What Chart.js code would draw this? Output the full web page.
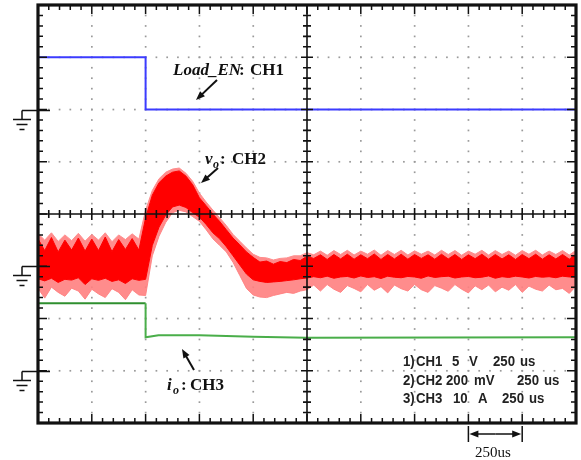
<!DOCTYPE html>
<html>
<head>
<meta charset="utf-8">
<script src="https://cdn.jsdelivr.net/npm/chart.js@4.4.1/dist/chart.umd.min.js"></script>
<style>
  html, body { margin: 0; background: #fff; }
  #wrap { width: 581px; height: 460px; }
</style>
</head>
<body>
<div id="wrap"><canvas id="scope" width="581" height="460"></canvas></div>
<script>
// time base: 250 us/div, 10 divisions
const divTimes = [0, 250, 500, 750, 1000, 1250, 1500, 1750, 2000, 2250, 2500];
const divLevels = [0, 1, 2, 3, 4, 5, 6, 7, 8];

// CH1 Load_EN (V)
const ch1Times = [0, 500, 500, 2500];
const ch1Volts = [5, 5, 0, 0];

// CH3 io (A)
const ch3Times = [0, 500, 500, 560, 750, 1000, 1250, 2500];
const ch3Amps = [12.9, 12.9, 6.4, 6.8, 6.8, 6.5, 6.3, 6.4];

// CH2 vo (mV, AC) sampled every 31.25 us: outer envelope and dense core
const ch2Times = [0, 31.25, 62.5, 93.75, 125, 156.25, 187.5, 218.75, 250, 281.25, 312.5, 343.75, 375, 406.25, 437.5, 468.75,
  500, 531.25, 562.5, 593.75, 625, 656.25, 687.5, 718.75, 750, 781.25, 812.5, 843.75, 875, 906.25, 937.5, 968.75,
  1000, 1031.25, 1062.5, 1093.75, 1125, 1156.25, 1187.5, 1218.75, 1250, 1281.25, 1312.5, 1343.75, 1375, 1406.25,
  1437.5, 1468.75, 1500, 1531.25, 1562.5, 1593.75, 1625, 1656.25, 1687.5, 1718.75, 1750, 1781.25, 1812.5, 1843.75,
  1875, 1906.25, 1937.5, 1968.75, 2000, 2031.25, 2062.5, 2093.75, 2125, 2156.25, 2187.5, 2218.75, 2250, 2281.25,
  2312.5, 2343.75, 2375, 2406.25, 2437.5, 2468.75, 2500];
const ch2PeakHi = [125, 100, 128, 95, 120, 98, 126, 96, 122, 100, 128, 94, 120, 102, 124, 104,
  215, 290, 335, 360, 372, 376, 356, 325, 280, 246, 215, 186, 156, 122, 96, 70, 46, 34, 32, 24, 30, 32, 40, 40, 52,
  44, 58, 42, 60, 45, 61, 43, 58, 46, 62, 42, 60, 45, 61, 43, 59, 46, 58, 43, 61,
  45, 60, 42, 58, 46, 61, 43, 60, 45, 58, 42, 60, 46, 61, 43, 58, 45, 60, 43, 61];
const ch2CoreHi = [105, 60, 110, 55, 100, 62, 108, 58, 104, 60, 112, 56, 102, 64, 106, 62,
  185, 272, 320, 345, 360, 365, 345, 312, 262, 232, 200, 172, 140, 108, 82, 55, 34, 16, 20, 8, 18, 14, 26, 22, 38,
  30, 44, 26, 45, 28, 46, 27, 44, 29, 47, 26, 45, 28, 46, 27, 45, 30, 44, 27, 46,
  28, 45, 26, 44, 29, 46, 27, 45, 28, 44, 26, 45, 29, 46, 27, 44, 28, 45, 27, 46];
const ch2CoreLo = [-48, -56, -46, -62, -50, -53, -44, -70, -48, -54, -46, -58, -52, -66, -48, -54,
  -50, 80, 150, 196, 227, 234, 225, 205, 188, 160, 128, 105, 75, 40, 5, -30, -52, -58, -62, -60, -58, -55, -52, -48, -45,
  -40, -44, -38, -46, -41, -39, -45, -37, -43, -40, -47, -38, -42, -44, -39, -41, -46, -37, -43, -40,
  -38, -45, -41, -39, -44, -42, -37, -46, -40, -43, -38, -41, -45, -39, -42, -40, -44, -38, -41, -43];
const ch2PeakLo = [-85, -122, -80, -100, -115, -84, -95, -126, -88, -106, -120, -86, -100, -128, -90, -110,
  -112, 40, 115, 168, 205, 214, 208, 190, 172, 140, 105, 80, 55, 15, -35, -85, -110, -118, -120, -112, -106, -100, -104, -95, -90,
  -72, -95, -70, -88, -100, -74, -85, -98, -70, -92, -78, -102, -72, -86, -95, -70, -90, -100, -74, -84,
  -96, -70, -88, -102, -75, -90, -72, -98, -80, -92, -70, -100, -76, -88, -95, -72, -90, -85, -104, -76];

// volts/div and ground level (in divisions from the bottom) per channel
const ch1Div = v => 6 + v / 5;
const ch2Div = mv => 3 + mv / 200;
const ch3Div = a => 1 + a / 10;
const groundLevels = [6, 3, 1];

function trace(times, vals, toDiv) {
  return times.map((t, i) => ({ x: t, y: toDiv(vals[i]) }));
}

function arrow(ctx, x0, y0, x1, y1) {
  const a = Math.atan2(y1 - y0, x1 - x0);
  ctx.beginPath();
  ctx.moveTo(x0, y0);
  ctx.lineTo(x1 - 6 * Math.cos(a), y1 - 6 * Math.sin(a));
  ctx.stroke();
  ctx.beginPath();
  ctx.moveTo(x1, y1);
  ctx.lineTo(x1 - 9 * Math.cos(a) + 3.5 * Math.sin(a), y1 - 9 * Math.sin(a) - 3.5 * Math.cos(a));
  ctx.lineTo(x1 - 9 * Math.cos(a) - 3.5 * Math.sin(a), y1 - 9 * Math.sin(a) + 3.5 * Math.cos(a));
  ctx.closePath();
  ctx.fill();
}

const serif = '"Liberation Serif", "Times New Roman", serif';

const scopeFrame = {
  id: 'scopeFrame',
  beforeDatasetsDraw(chart) {
    const { ctx, scales: { x, y } } = chart;
    ctx.save();
    ctx.fillStyle = '#9a9a9a';
    // dotted graticule
    divTimes.forEach((t, k) => {
      if (k === 0 || k === 5 || k === 10) return;
      const px = x.getPixelForValue(t);
      for (let m = 1; m < 40; m++) {
        ctx.fillRect(px - 0.8, y.getPixelForValue(m / 5) - 0.8, 1.7, 1.7);
      }
    });
    divLevels.forEach((lv, k) => {
      if (k === 0 || k === 4 || k === 8) return;
      const py = y.getPixelForValue(lv);
      for (let m = 1; m < 50; m++) {
        ctx.fillRect(x.getPixelForValue(m * 50) - 0.8, py - 0.8, 1.7, 1.7);
      }
    });
    ctx.restore();
  },
  afterDatasetsDraw(chart) {
    const { ctx, chartArea: a, scales: { x, y } } = chart;
    ctx.save();
    ctx.strokeStyle = '#111';
    ctx.fillStyle = '#111';

    // centre crosshair with minor ticks
    const cx = x.getPixelForValue(1250), cy = y.getPixelForValue(4);
    ctx.lineWidth = 1.6;
    ctx.beginPath();
    ctx.moveTo(cx, a.top); ctx.lineTo(cx, a.bottom);
    ctx.moveTo(a.left, cy); ctx.lineTo(a.right, cy);
    for (let m = 1; m < 40; m++) {
      const py = y.getPixelForValue(m / 5), h = m % 5 ? 4 : 6;
      ctx.moveTo(cx - h, py); ctx.lineTo(cx + h, py);
    }
    for (let m = 1; m < 50; m++) {
      const px = x.getPixelForValue(m * 50), h = m % 5 ? 4 : 6;
      ctx.moveTo(px, cy - h); ctx.lineTo(px, cy + h);
    }
    ctx.stroke();

    // frame and inward ticks
    ctx.lineWidth = 1.5;
    ctx.beginPath();
    for (let m = 1; m < 50; m++) {
      const px = x.getPixelForValue(m * 50), h = m % 5 ? 5 : 9;
      ctx.moveTo(px, a.top); ctx.lineTo(px, a.top + h);
      ctx.moveTo(px, a.bottom); ctx.lineTo(px, a.bottom - h);
    }
    for (let m = 1; m < 40; m++) {
      const py = y.getPixelForValue(m / 5), h = m % 5 ? 5 : 9;
      ctx.moveTo(a.left, py); ctx.lineTo(a.left + h, py);
      ctx.moveTo(a.right, py); ctx.lineTo(a.right - h, py);
    }
    ctx.stroke();
    ctx.lineWidth = 3.2;
    ctx.strokeRect(a.left, a.top, a.right - a.left, a.bottom - a.top);

    // ground markers
    ctx.lineWidth = 1.5;
    groundLevels.forEach(lv => {
      const py = Math.round(y.getPixelForValue(lv)) + 0.5;
      ctx.beginPath();
      ctx.moveTo(22, py); ctx.lineTo(a.left + 12, py);
      ctx.moveTo(22, py); ctx.lineTo(22, py + 9);
      ctx.moveTo(13, py + 9); ctx.lineTo(31, py + 9);
      ctx.moveTo(16.5, py + 14); ctx.lineTo(27.5, py + 14);
      ctx.moveTo(19.5, py + 19); ctx.lineTo(24.5, py + 19);
      ctx.stroke();
    });

    // channel labels
    ctx.textBaseline = 'alphabetic';
    ctx.font = 'italic bold 17px ' + serif;
    ctx.fillText('Load_EN', 173, 75);
    ctx.font = 'bold 17px ' + serif;
    ctx.fillText(':', 239, 75);
    ctx.fillText('CH1', 250, 75);

    ctx.font = 'italic bold 17px ' + serif;
    ctx.fillText('v', 205, 164);
    ctx.font = 'italic bold 12px ' + serif;
    ctx.fillText('o', 213, 168);
    ctx.font = 'bold 17px ' + serif;
    ctx.fillText(':', 220, 164);
    ctx.fillText('CH2', 232, 164);

    ctx.font = 'italic bold 17px ' + serif;
    ctx.fillText('i', 167, 390);
    ctx.font = 'italic bold 12px ' + serif;
    ctx.fillText('o', 173, 394);
    ctx.font = 'bold 17px ' + serif;
    ctx.fillText(':', 181, 390);
    ctx.fillText('CH3', 190, 390);

    ctx.lineWidth = 2;
    arrow(ctx, 217, 80, 196, 100);
    arrow(ctx, 218, 168, 201, 183);
    arrow(ctx, 194, 370, 182, 349);

    // channel settings readout, condensed sans
    ctx.fillStyle = '#222';
    ctx.font = 'bold 15px "Liberation Sans", Arial, sans-serif';
    const rows = [
      [[403, '1)'], [416, 'CH1'], [452, '5'], [469, 'V'], [493, '250'], [520, 'us']],
      [[403, '2)'], [416, 'CH2'], [446, '200'], [474, 'mV'], [517, '250'], [544, 'us']],
      [[403, '3)'], [416, 'CH3'], [453, '10'], [478, 'A'], [502, '250'], [529, 'us']]
    ];
    [366, 385, 403].forEach((by, r) => rows[r].forEach(([tx, s]) => {
      ctx.save();
      ctx.translate(tx, by);
      ctx.scale(0.88, 1);
      ctx.fillText(s, 0, 0);
      ctx.restore();
    }));

    // time scale bar under the screen
    const b0 = x.getPixelForValue(2000), b1 = x.getPixelForValue(2250);
    ctx.strokeStyle = '#111';
    ctx.fillStyle = '#111';
    ctx.lineWidth = 1.5;
    ctx.beginPath();
    ctx.moveTo(b0, 426); ctx.lineTo(b0, 442);
    ctx.moveTo(b1, 426); ctx.lineTo(b1, 442);
    ctx.stroke();
    arrow(ctx, (b0 + b1) / 2, 434, b0 + 1, 434);
    arrow(ctx, (b0 + b1) / 2, 434, b1 - 1, 434);
    ctx.font = '15px ' + serif;
    ctx.fillText('250us', 475, 457);
    ctx.restore();
  }
};

new Chart(document.getElementById('scope'), {
  type: 'line',
  data: {
    datasets: [
      {
        label: 'CH2 envelope high', data: trace(ch2Times, ch2PeakHi, ch2Div),
        borderColor: '#ff8c8c', borderWidth: 1, backgroundColor: 'rgba(255,128,128,0.9)', fill: '+1', order: 3
      },
      {
        label: 'CH2 envelope low', data: trace(ch2Times, ch2PeakLo, ch2Div),
        borderColor: '#ff8c8c', borderWidth: 1, fill: false, order: 3
      },
      {
        label: 'CH2 core high', data: trace(ch2Times, ch2CoreHi, ch2Div),
        borderColor: '#ff0000', borderWidth: 1, backgroundColor: '#ff0000', fill: '+1', order: 2
      },
      {
        label: 'CH2 core low', data: trace(ch2Times, ch2CoreLo, ch2Div),
        borderColor: '#ff0000', borderWidth: 1, fill: false, order: 2
      },
      {
        label: 'CH1', data: trace(ch1Times, ch1Volts, ch1Div),
        borderColor: '#3c3cff', borderWidth: 2, fill: false, order: 1
      },
      {
        label: 'CH3', data: trace(ch3Times, ch3Amps, ch3Div),
        borderColor: '#4aae4a', borderWidth: 2, fill: false, order: 1,
        segment: { borderColor: s => (s.p0.parsed.x < 500 ? '#2f8f2f' : undefined) }
      }
    ]
  },
  options: {
    responsive: false,
    devicePixelRatio: 1,
    animation: false,
    layout: { padding: { left: 38, right: 5, top: 5, bottom: 37 } },
    elements: { point: { radius: 0 }, line: { tension: 0 } },
    plugins: { legend: { display: false }, tooltip: { enabled: false } },
    scales: {
      x: { type: 'linear', min: divTimes[0], max: divTimes[divTimes.length - 1], display: false },
      y: { min: divLevels[0], max: divLevels[divLevels.length - 1], display: false }
    }
  },
  plugins: [scopeFrame]
});
</script>
</body>
</html>
